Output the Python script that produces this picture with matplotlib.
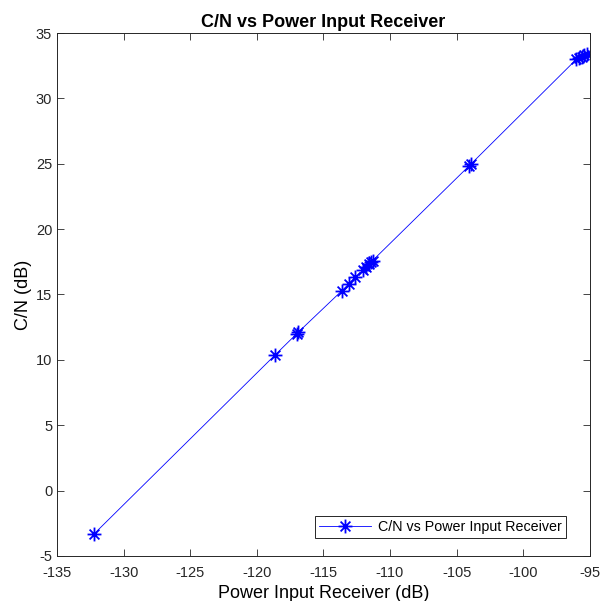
import numpy as np
import matplotlib
matplotlib.use("Agg")
import matplotlib.pyplot as plt
from matplotlib.path import Path

plt.rcParams['font.family'] = ['Liberation Sans', 'DejaVu Sans']
plt.rcParams['axes.unicode_minus'] = False

# values
p_in = [-132.2, -118.6, -117.0, -116.9, -113.6, -113.1, -112.6, -112.0, -111.8,
        -111.6, -111.4, -111.3, -104.1, -103.9, -96.0, -95.8, -95.6, -95.4, -95.2]
cn = [-3.3, 10.4, 12.0, 12.1, 15.3, 15.8, 16.3, 16.9, 17.1,
      17.3, 17.5, 17.6, 24.8, 25.0, 33.0, 33.1, 33.2, 33.3, 33.4]

# matlab style asterisk: + and x on top of each other
d = 0.707
verts = [(0, -1), (0, 1), (-1, 0), (1, 0), (-d, -d), (d, d), (-d, d), (d, -d)]
codes = [Path.MOVETO, Path.LINETO] * 4
star = Path(verts, codes)

fig = plt.figure(figsize=(6.0, 6.01), dpi=100)
ax = fig.add_axes([0.095, 0.075, 0.888, 0.870])

ax.plot(p_in, cn, '-', marker=star, color=(0, 0, 1), lw=0.6, ms=10, mew=1.3,
        label='C/N vs Power Input Receiver')

ax.set_xlim(-135, -95)
ax.set_ylim(-5, 35)
ax.set_xticks(np.arange(-135, -94, 5))
ax.set_yticks(np.arange(-5, 36, 5))
ax.tick_params(direction='in', length=5, width=0.6, labelsize=10.5,
               top=True, right=True, colors='0.15')
ax.tick_params(axis='x', pad=7)
for s in ax.spines.values():
    s.set_linewidth(0.7)
    s.set_color('0.15')

ax.set_title('C/N vs Power Input Receiver', fontsize=13, fontweight='bold', pad=4)
ax.set_xlabel('Power Input Receiver (dB)', fontsize=13, labelpad=4)
ax.set_ylabel('C/N (dB)', fontsize=13, labelpad=3)

leg = ax.legend(loc='lower right', bbox_to_anchor=(0.955, 0.034), borderaxespad=0,
                fontsize=10.3, fancybox=False, framealpha=1, edgecolor='0.15',
                handlelength=3.6, borderpad=0.3, handletextpad=0.5)
leg.get_frame().set_linewidth(0.7)

fig.savefig('out.png', dpi=100)
